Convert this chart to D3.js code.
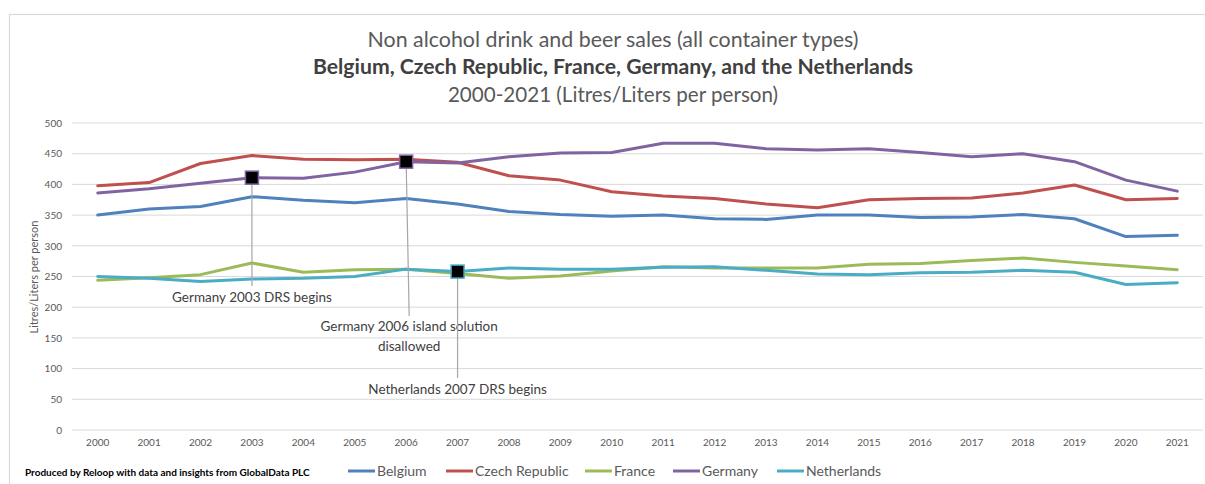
<!DOCTYPE html>
<html><head><meta charset="utf-8">
<script src="https://cdn.jsdelivr.net/npm/d3@7"></script>
<style>body{margin:0;background:#fff;} svg{display:block;font-family:Lato,"Open Sans",sans-serif;}</style>
</head><body>
<svg id="c" width="1205" height="484"></svg>
<script>
const years = ["2000","2001","2002","2003","2004","2005","2006","2007","2008","2009","2010","2011","2012","2013","2014","2015","2016","2017","2018","2019","2020","2021"];
const seriesNames = ["Belgium","Czech Republic","France","Germany","Netherlands"];
const belgium = [350,360,364,380,374,370,377,368,356,351,348,350,344,343,350,350,346,347,351,344,315,317];
const czech = [398,403,434,447,441,440,441,436,414,407,388,381,377,368,362,375,377,378,386,399,375,377];
const france = [244,248,253,272,257,261,262,255,247,251,259,266,264,264,264,270,271,276,280,273,267,261];
const germany = [386,393,402,411,410,420,437,435,445,451,452,467,467,458,456,458,452,445,450,437,407,389];
const netherlands = [250,247,242,246,247,250,262,258,264,262,262,265,266,260,254,253,256,257,260,257,237,240];
const yTicks = [0,50,100,150,200,250,300,350,400,450,500];
const colors = ["#4F81BD","#C0504D","#9BBB59","#8064A2","#4BACC6"];
const annotations = [
  {series:3, year:"2003", lines:["Germany 2003 DRS begins"], labelY:297, lineEnd:286},
  {series:3, year:"2006", lines:["Germany 2006 island solution","disallowed"], labelY:326, lineEnd:316},
  {series:4, year:"2007", lines:["Netherlands 2007 DRS begins"], labelY:389, lineEnd:378}
];
const values = [belgium, czech, france, germany, netherlands];

const svg = d3.select("#c");
// outer frame
svg.append("rect").attr("x",9.5).attr("y",14.5).attr("width",1220).attr("height",500)
  .attr("fill","none").attr("stroke","#d9d9d9").attr("stroke-width",1.2);

const x = d3.scaleBand().domain(years).range([72,1203]);
const y = d3.scaleLinear().domain([0,500]).range([430,123]);
const cx = d => x(d)+x.bandwidth()/2;

// gridlines
svg.append("g").selectAll("line").data(yTicks).join("line")
  .attr("x1",72).attr("x2",1203).attr("y1",d=>y(d)).attr("y2",d=>y(d))
  .attr("stroke","#d9d9d9").attr("stroke-width",1);

// y axis labels
const yAx = svg.append("g").attr("transform","translate(72,0)")
  .call(d3.axisLeft(y).tickValues(yTicks).tickSize(0).tickPadding(10));
yAx.select(".domain").remove();
yAx.selectAll("text").attr("fill","#595959").style("font-size","10px").style("font-family","Lato,sans-serif");

// x axis labels
const xAx = svg.append("g").attr("transform","translate(0,430)")
  .call(d3.axisBottom(x).tickSize(0).tickPadding(9));
xAx.select(".domain").remove();
xAx.selectAll("text").attr("fill","#595959").style("font-size","10px").style("font-family","Lato,sans-serif");

// y title
svg.append("text").attr("transform","translate(38,277) rotate(-90)").attr("text-anchor","middle")
  .attr("fill","#595959").style("font-size","11px").text("Litres/Liters per person");

// lines
const line = d3.line().x((d,i)=>cx(years[i])).y(d=>y(d));
svg.append("g").selectAll("path").data(values).join("path")
  .attr("d",d=>line(d)).attr("fill","none").attr("stroke",(d,i)=>colors[i])
  .attr("stroke-width",3).attr("stroke-linejoin","round").attr("stroke-linecap","round");

// annotations
annotations.forEach(a=>{
  const i = years.indexOf(a.year);
  const px = cx(a.year), py = y(values[a.series][i]);
  const off = a.year==="2006"?3:0;
  svg.append("line").attr("x1",px).attr("x2",px+off).attr("y1",py).attr("y2",a.lineEnd)
    .attr("stroke","#a6a6a6").attr("stroke-width",1.2);
  svg.append("rect").attr("x",px-6.5).attr("y",py-6.5).attr("width",13).attr("height",13)
    .attr("fill","#000").attr("stroke",colors[a.series]).attr("stroke-width",1.5);
  const t = svg.append("text").attr("text-anchor","middle").attr("fill","#404040").style("font-size","13.5px");
  a.lines.forEach((l,k)=>t.append("tspan").attr("x",px+off).attr("y",a.labelY+5+k*20).text(l));
});

// titles
const tt = svg.append("g").attr("text-anchor","middle").attr("fill","#595959");
tt.append("text").attr("x",613).attr("y",47).style("font-size","21.4px").text("Non alcohol drink and beer sales (all container types)");
tt.append("text").attr("x",613).attr("y",74).style("font-size","21.2px").style("font-weight","bold").attr("fill","#404040").text("Belgium, Czech Republic, France, Germany, and the Netherlands");
tt.append("text").attr("x",613).attr("y",102).style("font-size","20.6px").text("2000-2021 (Litres/Liters per person)");

// footnote
svg.append("text").attr("x",25).attr("y",476).attr("fill","#000").style("font-size","10px").style("font-weight","bold")
  .text("Produced by Reloop with data and insights from GlobalData PLC");

// legend
const legX = [348,446,585,673,777];
const lg = svg.append("g").selectAll("g").data(seriesNames).join("g")
  .attr("transform",(d,i)=>`translate(${legX[i]},471)`);
lg.append("line").attr("x1",0).attr("x2",27).attr("stroke",(d,i)=>colors[i]).attr("stroke-width",3);
lg.append("text").attr("x",29).attr("y",5).attr("fill","#595959").style("font-size","14px").text(d=>d);
</script>
</body></html>
